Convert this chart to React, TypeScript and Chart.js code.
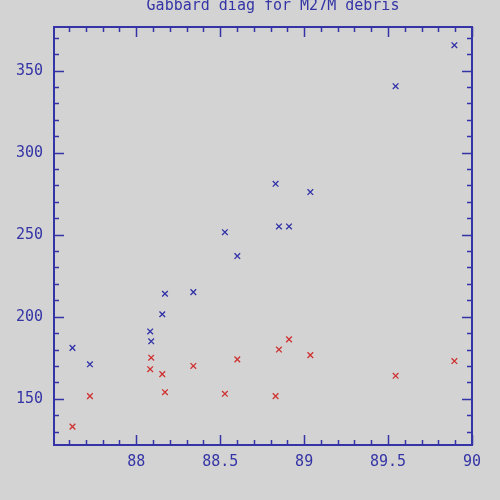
import React, { useEffect, useRef } from "react";
import { Chart, registerables } from "chart.js";

Chart.register(...registerables);

const TITLE = "Gabbard diag for M27M debris";

// Orbital period (min) and apogee altitude (blue)
const APOGEE_PERIOD = [87.62, 87.724, 88.083, 88.089, 88.155, 88.171, 88.34, 88.528, 88.602, 88.83, 88.85, 88.91, 89.037, 89.545, 89.895];
const APOGEE = [181, 171, 191, 185, 201.5, 214, 215, 251.5, 237, 281, 255, 255, 276, 340.5, 365.5];

// Orbital period (min) and perigee altitude (red)
const PERIGEE_PERIOD = [87.62, 87.724, 88.083, 88.089, 88.155, 88.171, 88.34, 88.528, 88.602, 88.83, 88.85, 88.91, 89.037, 89.545, 89.895];
const PERIGEE = [133, 151.6, 168, 175, 165, 154, 170, 153, 174, 151.6, 180, 186.2, 176.6, 164, 173];

const X_TICKS = [88, 88.5, 89, 89.5, 90];
const Y_TICKS = [150, 200, 250, 300, 350];
const X_MIN = 87.51;
const X_MAX = 90;
const Y_MIN = 121.8;
const Y_MAX = 376.6;

const AXIS_COLOR = "#3434a6";
const BLUE = "#3030a8";
const RED = "#d03030";
const BG = "#d3d3d3";
const FONT = "'DejaVu Sans Mono', 'Liberation Mono', monospace";

const framePlugin = {
  id: "frame",
  beforeDraw(chart: any) {
    const { ctx, width, height } = chart;
    ctx.save();
    ctx.fillStyle = BG;
    ctx.fillRect(0, 0, width, height);
    ctx.restore();
  },
  afterDraw(chart: any) {
    const { ctx, chartArea } = chart;
    const { left, right, top, bottom } = chartArea;
    const xs = chart.scales.x;
    const ys = chart.scales.y;
    ctx.save();
    ctx.strokeStyle = AXIS_COLOR;
    ctx.lineWidth = 2;
    ctx.strokeRect(left, top, right - left, bottom - top);
    ctx.lineWidth = 1.5;
    ctx.beginPath();
    // x ticks (minor 0.1, major 0.5)
    for (let i = Math.ceil(X_MIN * 10); i <= Math.floor(X_MAX * 10); i++) {
      const v = i / 10;
      const major = i % 5 === 0;
      const len = major ? 10 : 5;
      const px = Math.round(xs.getPixelForValue(v)) + 0.5;
      ctx.moveTo(px, bottom);
      ctx.lineTo(px, bottom - len);
      ctx.moveTo(px, top);
      ctx.lineTo(px, top + len);
    }
    // y ticks (minor 10, major 50)
    for (let i = Math.ceil(Y_MIN / 10); i <= Math.floor(Y_MAX / 10); i++) {
      const v = i * 10;
      const major = v % 50 === 0;
      const len = major ? 10 : 5;
      const py = Math.round(ys.getPixelForValue(v)) + 0.5;
      ctx.moveTo(left, py);
      ctx.lineTo(left + len, py);
      ctx.moveTo(right, py);
      ctx.lineTo(right - len, py);
    }
    ctx.stroke();
    // title
    ctx.fillStyle = AXIS_COLOR;
    ctx.font = `15px ${FONT}`;
    ctx.textAlign = "center";
    ctx.textBaseline = "middle";
    ctx.fillText(TITLE, 273, 6);
    ctx.restore();
  },
};

export default function App() {
  const ref = useRef<HTMLCanvasElement | null>(null);
  useEffect(() => {
    if (!ref.current) return;
    const chart = new Chart(ref.current, {
      type: "scatter",
      data: {
        datasets: [
          {
            label: "Apogee",
            data: APOGEE_PERIOD.map((x, i) => ({ x, y: APOGEE[i] })),
            pointStyle: "crossRot",
            pointRadius: 4,
            borderColor: BLUE,
            backgroundColor: BLUE,
            borderWidth: 1.3,
          },
          {
            label: "Perigee",
            data: PERIGEE_PERIOD.map((x, i) => ({ x, y: PERIGEE[i] })),
            pointStyle: "crossRot",
            pointRadius: 4,
            borderColor: RED,
            backgroundColor: RED,
            borderWidth: 1.3,
          },
        ],
      },
      options: {
        animation: false,
        responsive: true,
        maintainAspectRatio: false,
        layout: { padding: { left: 0, right: 28, top: 27, bottom: 0 } },
        plugins: {
          legend: { display: false },
          tooltip: { enabled: false },
          title: { display: false },
        },
        scales: {
          x: {
            type: "linear",
            min: X_MIN,
            max: X_MAX,
            afterBuildTicks: (scale: any) => {
              scale.ticks = X_TICKS.map((v) => ({ value: v }));
            },
            afterFit: (scale: any) => {
              scale.height = 55;
            },
            grid: { drawOnChartArea: false, drawTicks: false },
            border: { display: false },
            ticks: {
              color: AXIS_COLOR,
              font: { family: FONT, size: 15 },
              padding: 8,
              maxRotation: 0,
              autoSkip: false,
              callback: (v: any) => String(v),
            },
          },
          y: {
            type: "linear",
            min: Y_MIN,
            max: Y_MAX,
            afterBuildTicks: (scale: any) => {
              scale.ticks = Y_TICKS.map((v) => ({ value: v }));
            },
            afterFit: (scale: any) => {
              scale.width = 54;
            },
            grid: { drawOnChartArea: false, drawTicks: false },
            border: { display: false },
            ticks: {
              color: AXIS_COLOR,
              font: { family: FONT, size: 15 },
              padding: 11,
              autoSkip: false,
              callback: (v: any) => String(v),
            },
          },
        },
      },
      plugins: [framePlugin],
    });
    return () => chart.destroy();
  }, []);
  return (
    <div style={{ position: "absolute", left: 0, top: 0, width: 500, height: 500, background: BG }}>
      <canvas ref={ref} />
    </div>
  );
}
